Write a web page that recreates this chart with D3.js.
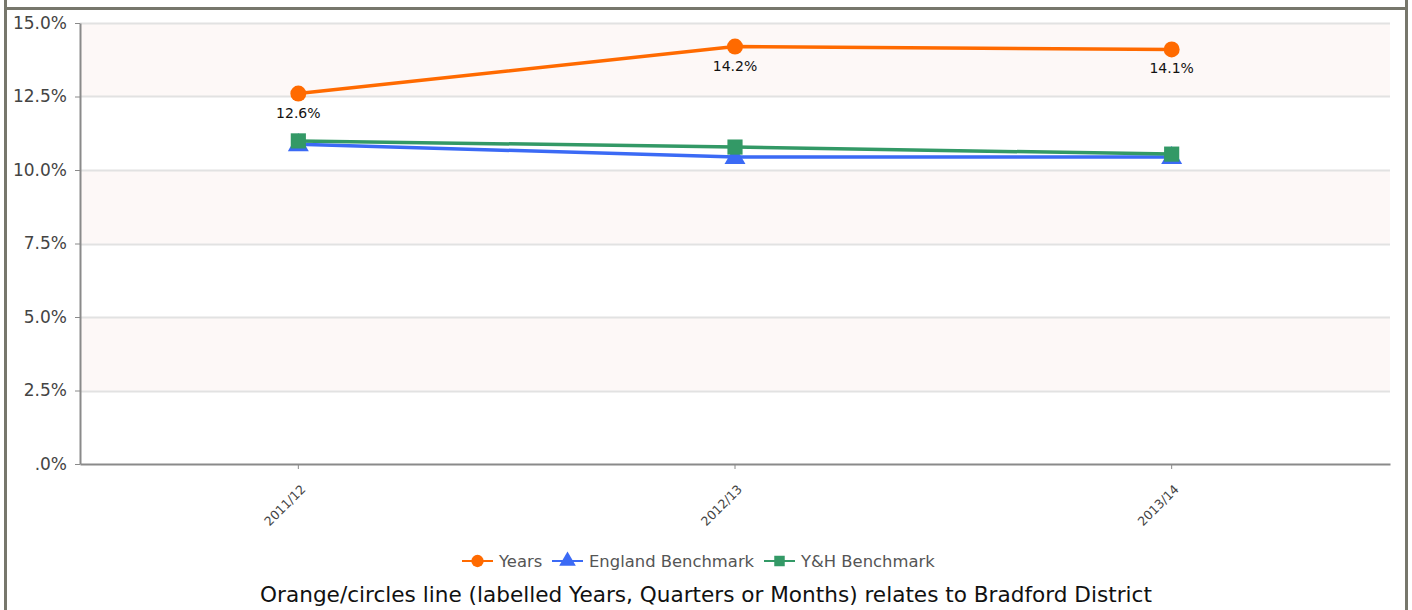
<!DOCTYPE html>
<html>
<head>
<meta charset="utf-8">
<script src="https://cdn.jsdelivr.net/npm/d3@7"></script>
<style>
  html, body { margin: 0; padding: 0; background: #fff; }
  svg { display: block; font-family: "DejaVu Sans", Verdana, sans-serif; }
</style>
</head>
<body>
<svg id="chart" width="1412" height="610"></svg>
<script>
// Periods on the x axis
const categories = ["2011/12", "2012/13", "2013/14"];
// Percentages per series
const yearsValues = [12.6, 14.2, 14.1];
const englandValues = [10.88, 10.44, 10.44];
const yhValues = [10.99, 10.78, 10.54];
// Y axis ticks
const yTicks = [0, 2.5, 5, 7.5, 10, 12.5, 15];
const seriesNames = ["Years", "England Benchmark", "Y&H Benchmark"];

const svg = d3.select("#chart");
const W = 1412, H = 610;
const m = { left: 80, right: 1390, top: 23, bottom: 464 };

// Outer frame
const frame = "#77776c";
svg.append("line").attr("x1", 5).attr("x2", 1407).attr("y1", 8.5).attr("y2", 8.5)
  .attr("stroke", frame).attr("stroke-width", 3);
svg.append("line").attr("x1", 5.5).attr("x2", 5.5).attr("y1", 0).attr("y2", H)
  .attr("stroke", frame).attr("stroke-width", 3);
svg.append("line").attr("x1", 1406.5).attr("x2", 1406.5).attr("y1", 0).attr("y2", H)
  .attr("stroke", frame).attr("stroke-width", 3);

const x = d3.scaleBand().domain(categories).range([m.left, m.right]);
const y = d3.scaleLinear().domain([0, 15]).range([m.bottom, m.top]);
const cx = c => x(c) + x.bandwidth() / 2;

// Alternating background bands
const g = svg.append("g");
for (let i = 0; i < yTicks.length - 1; i++) {
  if (i % 2 === 1) {
    g.append("rect")
      .attr("x", m.left).attr("width", m.right - m.left)
      .attr("y", y(yTicks[i + 1])).attr("height", y(yTicks[i]) - y(yTicks[i + 1]))
      .attr("fill", "#fdf8f7");
  }
}
// Horizontal grid lines
g.selectAll("line.grid").data(yTicks.filter(t => t > 0)).join("line")
  .attr("class", "grid")
  .attr("x1", m.left).attr("x2", m.right)
  .attr("y1", d => Math.round(y(d)) + 0.5).attr("y2", d => Math.round(y(d)) + 0.5)
  .attr("stroke", "#e2e2e2").attr("stroke-width", 2);

// Y axis
const fmtTick = d => (d === 0 ? ".0" : d.toFixed(1)) + "%";
const yAxis = svg.append("g").attr("transform", `translate(${m.left},0)`)
  .call(d3.axisLeft(y).tickValues(yTicks).tickFormat(fmtTick).tickSize(5).tickSizeOuter(0));
yAxis.select(".domain").attr("stroke", "#8a8a8a").attr("stroke-width", 2);
yAxis.selectAll(".tick line").attr("stroke", "#8a8a8a");
yAxis.selectAll(".tick text").attr("fill", "#444").attr("font-size", 17)
  .attr("x", -13).attr("font-family", "DejaVu Sans, Verdana, sans-serif");

// X axis
const xAxis = svg.append("g").attr("transform", `translate(0,${m.bottom})`)
  .call(d3.axisBottom(x).tickSize(5).tickSizeOuter(0));
xAxis.select(".domain").attr("stroke", "#8a8a8a").attr("stroke-width", 2);
xAxis.selectAll(".tick line").attr("stroke", "#8a8a8a");
xAxis.selectAll(".tick text")
  .attr("fill", "#444").attr("font-size", 12.5).attr("font-family", "DejaVu Sans, Verdana, sans-serif")
  .attr("text-anchor", "end").attr("dy", 0).attr("y", 0)
  .attr("transform", "translate(8,26) rotate(-45)");

// Series
const series = [
  { name: seriesNames[0], values: yearsValues, color: "#ff6a00", shape: "circle" },
  { name: seriesNames[1], values: englandValues, color: "#3b6af5", shape: "triangle" },
  { name: seriesNames[2], values: yhValues, color: "#339966", shape: "square" }
];
const line = d3.line().x((d, i) => cx(categories[i])).y(d => y(d));
const sym = {
  circle: d3.symbol().type(d3.symbolCircle).size(200),
  triangle: d3.symbol().type(d3.symbolTriangle).size(190),
  square: d3.symbol().type(d3.symbolSquare).size(230)
};

[series[1], series[2], series[0]].forEach(s => {
  svg.append("path").datum(s.values).attr("d", line)
    .attr("fill", "none").attr("stroke", s.color).attr("stroke-width", 3.5);
  svg.selectAll(null).data(s.values).join("path")
    .attr("d", sym[s.shape])
    .attr("transform", (d, i) => `translate(${cx(categories[i])},${y(d) + (s.shape === "triangle" ? 1 : 0)})`)
    .attr("fill", s.color);
});

// Value labels on the Years line
svg.selectAll("text.vlabel").data(yearsValues).join("text")
  .attr("class", "vlabel")
  .attr("x", (d, i) => cx(categories[i])).attr("y", d => y(d) + 24)
  .attr("text-anchor", "middle").attr("font-size", 14).attr("fill", "#111")
  .text(d => d.toFixed(1) + "%");

// Legend
const legendItems = [
  { s: series[0], x: 462 },
  { s: series[1], x: 552 },
  { s: series[2], x: 764 }
];
const ly = 561;
legendItems.forEach(({ s, x: lx }) => {
  svg.append("line").attr("x1", lx).attr("x2", lx + 31).attr("y1", ly).attr("y2", ly)
    .attr("stroke", s.color).attr("stroke-width", 2);
  svg.append("path").attr("d", d3.symbol().type(
      s.shape === "circle" ? d3.symbolCircle : s.shape === "triangle" ? d3.symbolTriangle : d3.symbolSquare
    ).size(s.shape === "square" ? 110 : 120)())
    .attr("transform", `translate(${lx + 15.5},${ly})`).attr("fill", s.color);
  svg.append("text").attr("x", lx + 37).attr("y", ly + 6)
    .attr("font-size", 16.4).attr("fill", "#555").text(s.name);
});

// Caption
svg.append("text").attr("x", 706).attr("y", 602).attr("text-anchor", "middle")
  .attr("font-size", 21.6).attr("fill", "#111")
  .text("Orange/circles line (labelled Years, Quarters or Months) relates to Bradford District");
</script>
</body>
</html>
